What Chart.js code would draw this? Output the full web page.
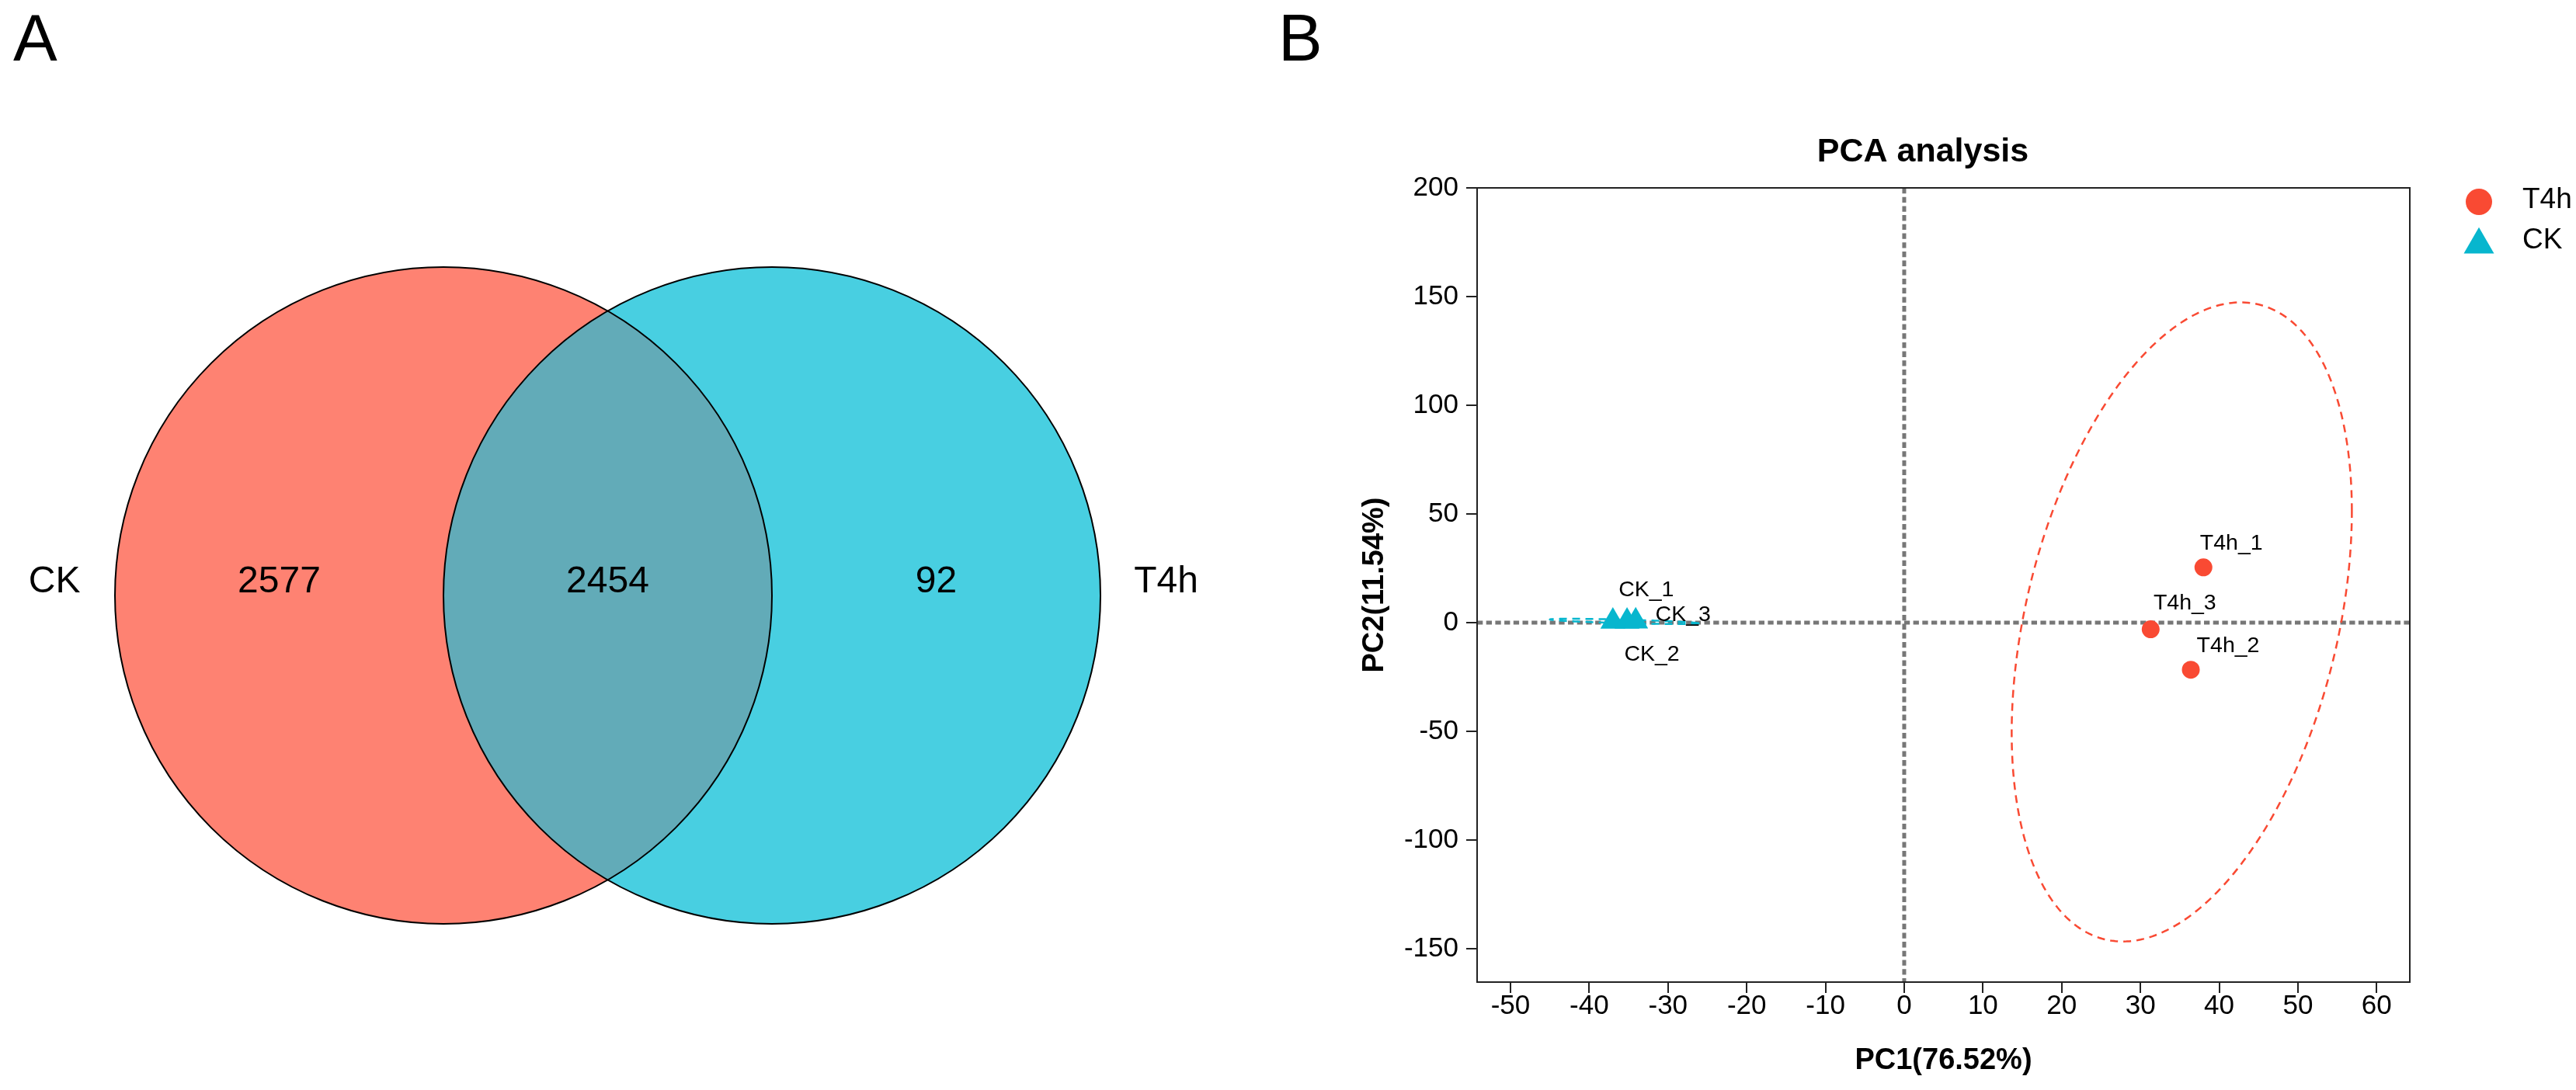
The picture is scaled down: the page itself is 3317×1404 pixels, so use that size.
<!DOCTYPE html>
<html>
<head>
<meta charset="utf-8">
<script src="https://cdn.jsdelivr.net/npm/chart.js@4.4.1/dist/chart.umd.min.js"></script>
<style>
  html, body { margin: 0; padding: 0; background: #ffffff; width: 3317px; height: 1404px; overflow: hidden; }
  #wrap { position: relative; width: 3317px; height: 1404px; }
  canvas { position: absolute; left: 0; top: 0; }
  .panel { position: absolute; font-family: 'Liberation Sans', Arial, sans-serif; font-size: 85px; line-height: 85px; color: #000; }
</style>
</head>
<body>
<div id="wrap">
  <canvas id="venn" width="1650" height="1404"></canvas>
  <canvas id="pca" width="3317" height="1404"></canvas>
  <div class="panel" style="left:17px; top:6px;">A</div>
  <div class="panel" style="left:1646px; top:6px;">B</div>
</div>
<script>
// ================= DATA =================
// Venn (panel A)
const vennSets = ['CK', 'T4h'];
const vennCounts = [2577, 2454, 92];          // CK only, shared, T4h only

// PCA (panel B)
const groupNames = ['T4h', 'CK'];
const t4hSamples = ['T4h_1', 'T4h_2', 'T4h_3'];
const t4hPC1 = [38.0, 36.4, 31.3];
const t4hPC2 = [25.4, -21.7, -3.1];
const ckSamples = ['CK_1', 'CK_2', 'CK_3'];
const ckPC1 = [-37.0, -35.2, -34.1];
const ckPC2 = [0.55, 0.5, 0.6];
const xTickValues = [-50, -40, -30, -20, -10, 0, 10, 20, 30, 40, 50, 60];
const yTickValues = [-150, -100, -50, 0, 50, 100, 150, 200];
const xAxisTitle = 'PC1(76.52%)';
const yAxisTitle = 'PC2(11.54%)';
const plotTitle = 'PCA analysis';
// confidence ellipses: [centre PC1, centre PC2, half-width PC1, PC2 offset at PC1 extreme, PC2 minor term]
const t4hEllipse = [35.25, 0.3, 21.6, 51.0, 137.9];
const ckEllipse = [-35.55, 0.54, 9.45, -0.9, 0.8];

// ================= GEOMETRY / STYLE =================
const FONT = "'Liberation Sans', Arial, sans-serif";
const vennCentres = [-0.5, 0.5];
const vennRadius = 1;
const vennCountPos = [-1, 0, 1];
const vennSetLabelPos = [-1.684, 1.70];
const vennColors = ['#FE8272', '#48CFE1'];
const vennOverlapColor = '#62ABB8';
const groupColors = ['#F94A33', '#07B6CE'];
const labelOffsets = {
  'T4h_1': [36, -31], 'T4h_2': [48, -31], 'T4h_3': [44, -33],
  'CK_1': [43, -40], 'CK_2': [32, 43], 'CK_3': [61, -8]
};

// ================= VENN =================
const vennPlugin = {
  id: 'vennDecor',
  afterDatasetsDraw(chart) {
    const ctx = chart.ctx;
    const meta = chart.getDatasetMeta(0);
    const p0 = meta.data[0], p1 = meta.data[1];
    const r = p0.options.radius;
    ctx.save();
    ctx.beginPath(); ctx.arc(p0.x, p0.y, r, 0, Math.PI * 2); ctx.clip();
    ctx.beginPath(); ctx.arc(p1.x, p1.y, r, 0, Math.PI * 2);
    ctx.fillStyle = vennOverlapColor; ctx.fill();
    ctx.restore();
    ctx.save();
    ctx.lineWidth = 2; ctx.strokeStyle = '#000';
    [p0, p1].forEach(p => { ctx.beginPath(); ctx.arc(p.x, p.y, r, 0, Math.PI * 2); ctx.stroke(); });
    const xs = chart.scales.x, ys = chart.scales.y;
    const ty = ys.getPixelForValue(0) - 17;
    ctx.fillStyle = '#000';
    ctx.font = '48px ' + FONT;
    ctx.textAlign = 'center'; ctx.textBaseline = 'middle';
    vennCounts.forEach((c, i) => ctx.fillText(String(c), xs.getPixelForValue(vennCountPos[i]), ty));
    vennSets.forEach((s, i) => ctx.fillText(s, xs.getPixelForValue(vennSetLabelPos[i]), ty));
    ctx.restore();
  }
};

new Chart(document.getElementById('venn'), {
  type: 'scatter',
  data: {
    datasets: [{
      label: 'Venn',
      data: vennSets.map((s, i) => ({ x: vennCentres[i], y: 0 })),
      backgroundColor: vennColors,
      borderWidth: 0,
      pointStyle: 'circle',
      pointRadius: (c) => {
        const s = c.chart.scales.x;
        return Math.abs(s.getPixelForValue(vennRadius) - s.getPixelForValue(0));
      },
      pointHoverRadius: (c) => {
        const s = c.chart.scales.x;
        return Math.abs(s.getPixelForValue(vennRadius) - s.getPixelForValue(0));
      }
    }]
  },
  options: {
    responsive: false, animation: false,
    layout: { padding: 0 },
    clip: false,
    plugins: { legend: { display: false }, title: { display: false }, tooltip: { enabled: false } },
    scales: {
      x: { type: 'linear', display: false, min: -1.8499, max: 2.0508 },
      y: { type: 'linear', display: false, min: -1.5059, max: 1.8132 }
    }
  },
  plugins: [vennPlugin]
});

// ================= PCA =================
function drawEllipse(ctx, xs, ys, e, color) {
  const [cx, cy, a, b, c] = e;
  ctx.beginPath();
  for (let i = 0; i <= 360; i++) {
    const t = i * Math.PI / 180;
    const px = xs.getPixelForValue(cx + a * Math.cos(t));
    const py = ys.getPixelForValue(cy + b * Math.cos(t) + c * Math.sin(t));
    if (i === 0) ctx.moveTo(px, py); else ctx.lineTo(px, py);
  }
  ctx.closePath();
  ctx.strokeStyle = color; ctx.lineWidth = 2.5; ctx.setLineDash([10, 7]);
  ctx.stroke();
}

function drawMarker(ctx, style, radius, x, y, color) {
  ctx.fillStyle = color;
  ctx.beginPath();
  if (style === 'circle') {
    ctx.arc(x, y, radius, 0, Math.PI * 2);
  } else {
    ctx.moveTo(x, y - radius);
    ctx.lineTo(x + radius * Math.sin(2 * Math.PI / 3), y + radius / 2);
    ctx.lineTo(x - radius * Math.sin(2 * Math.PI / 3), y + radius / 2);
    ctx.closePath();
  }
  ctx.fill();
}

const pcaPlugin = {
  id: 'pcaDecor',
  beforeDatasetsDraw(chart) {
    const { ctx, chartArea: a, scales: { x, y } } = chart;
    ctx.save();
    ctx.beginPath(); ctx.rect(a.left, a.top, a.width, a.height); ctx.clip();
    ctx.strokeStyle = '#777777'; ctx.lineWidth = 5; ctx.setLineDash([7.3, 4.4]);
    const x0 = x.getPixelForValue(0), y0 = y.getPixelForValue(0);
    ctx.beginPath(); ctx.moveTo(a.left, y0); ctx.lineTo(a.right, y0); ctx.stroke();
    ctx.beginPath(); ctx.moveTo(x0, a.top); ctx.lineTo(x0, a.bottom); ctx.stroke();
    drawEllipse(ctx, x, y, t4hEllipse, groupColors[0]);
    drawEllipse(ctx, x, y, ckEllipse, groupColors[1]);
    ctx.restore();
  },
  afterDatasetsDraw(chart) {
    const ctx = chart.ctx;
    ctx.save();
    ctx.fillStyle = '#000';
    ctx.font = '28.5px ' + FONT;
    ctx.textAlign = 'center'; ctx.textBaseline = 'middle';
    chart.data.datasets.forEach((ds, di) => {
      const meta = chart.getDatasetMeta(di);
      ds.sampleNames.forEach((name, j) => {
        const el = meta.data[j];
        const off = labelOffsets[name];
        ctx.fillText(name, el.x + off[0], el.y + off[1]);
      });
    });
    ctx.restore();
  },
  afterDraw(chart) {
    const { ctx, chartArea: a } = chart;
    ctx.save();
    ctx.strokeStyle = '#222'; ctx.lineWidth = 2;
    ctx.strokeRect(a.left, a.top, a.right - a.left, a.bottom - a.top);
    // legend
    chart.data.datasets.forEach((ds, i) => {
      const rowY = a.top + 16 + i * 51.5;
      const mx = a.right + 89;
      if (ds.pointStyle === 'circle') {
        drawMarker(ctx, 'circle', 17, mx, rowY + 2, ds.backgroundColor);
      } else {
        drawMarker(ctx, 'triangle', 22.5, mx, rowY + 22.5 / 4, ds.backgroundColor);
      }
      ctx.fillStyle = '#000';
      ctx.font = '37px ' + FONT;
      ctx.textAlign = 'left'; ctx.textBaseline = 'middle';
      ctx.fillText(ds.label, a.right + 145, rowY);
    });
    ctx.restore();
  }
};

new Chart(document.getElementById('pca'), {
  type: 'scatter',
  data: {
    datasets: [
      {
        label: groupNames[0],
        sampleNames: t4hSamples,
        data: t4hPC1.map((v, i) => ({ x: v, y: t4hPC2[i] })),
        backgroundColor: groupColors[0],
        borderWidth: 0,
        pointStyle: 'circle',
        pointRadius: 11.5,
        pointHoverRadius: 11.5
      },
      {
        label: groupNames[1],
        sampleNames: ckSamples,
        data: ckPC1.map((v, i) => ({ x: v, y: ckPC2[i] })),
        backgroundColor: groupColors[1],
        borderWidth: 0,
        pointStyle: 'triangle',
        pointRadius: 18.5,
        pointHoverRadius: 18.5
      }
    ]
  },
  options: {
    responsive: false, animation: false,
    layout: { padding: { left: 1740, right: 105, top: 170, bottom: 0 } },
    plugins: {
      legend: { display: false },
      tooltip: { enabled: false },
      title: {
        display: true, text: plotTitle, color: '#000',
        font: { family: FONT, size: 43, weight: 'bold', lineHeight: 1.2 },
        padding: { top: 0, bottom: 20.4 }
      }
    },
    scales: {
      x: {
        type: 'linear', position: 'bottom',
        min: -54.24, max: 64.21,
        afterBuildTicks: (s) => { s.ticks = xTickValues.map(v => ({ value: v })); },
        afterFit: (s) => { s.height = 139; },
        ticks: {
          autoSkip: false, maxRotation: 0, includeBounds: false, padding: 0, color: '#000',
          font: { family: FONT, size: 35, lineHeight: 1 },
          callback: (v) => String(v)
        },
        grid: { display: true, drawOnChartArea: false, drawTicks: true, tickLength: 14, color: '#222', tickColor: '#222', tickWidth: 2, lineWidth: 2 },
        border: { display: true, color: '#222', width: 2 },
        title: {
          display: true, text: xAxisTitle, color: '#000',
          font: { family: FONT, size: 38, weight: 'bold', lineHeight: 1.2 },
          padding: { top: 0, bottom: 15 }
        }
      },
      y: {
        type: 'linear', position: 'left',
        min: -165.4, max: 200,
        afterBuildTicks: (s) => { s.ticks = yTickValues.map(v => ({ value: v })); },
        afterFit: (s) => { s.width = 162; },
        ticks: {
          autoSkip: false, includeBounds: false, padding: 10, color: '#000',
          font: { family: FONT, size: 35, lineHeight: 1.2 },
          callback: (v) => String(v)
        },
        grid: { display: true, drawOnChartArea: false, drawTicks: true, tickLength: 14, color: '#222', tickColor: '#222', tickWidth: 2, lineWidth: 2 },
        border: { display: true, color: '#222', width: 2 },
        title: {
          display: true, text: yAxisTitle, color: '#000',
          font: { family: FONT, size: 38, weight: 'bold', lineHeight: 1.2 },
          padding: { top: 8, bottom: 0 }
        }
      },
      yr: {
        type: 'linear', position: 'right', display: true,
        afterFit: (s) => { s.width = 109; },
        ticks: { display: false },
        grid: { display: false, drawTicks: false },
        border: { display: false },
        title: { display: false }
      }
    }
  },
  plugins: [pcaPlugin]
});
</script>
</body>
</html>
